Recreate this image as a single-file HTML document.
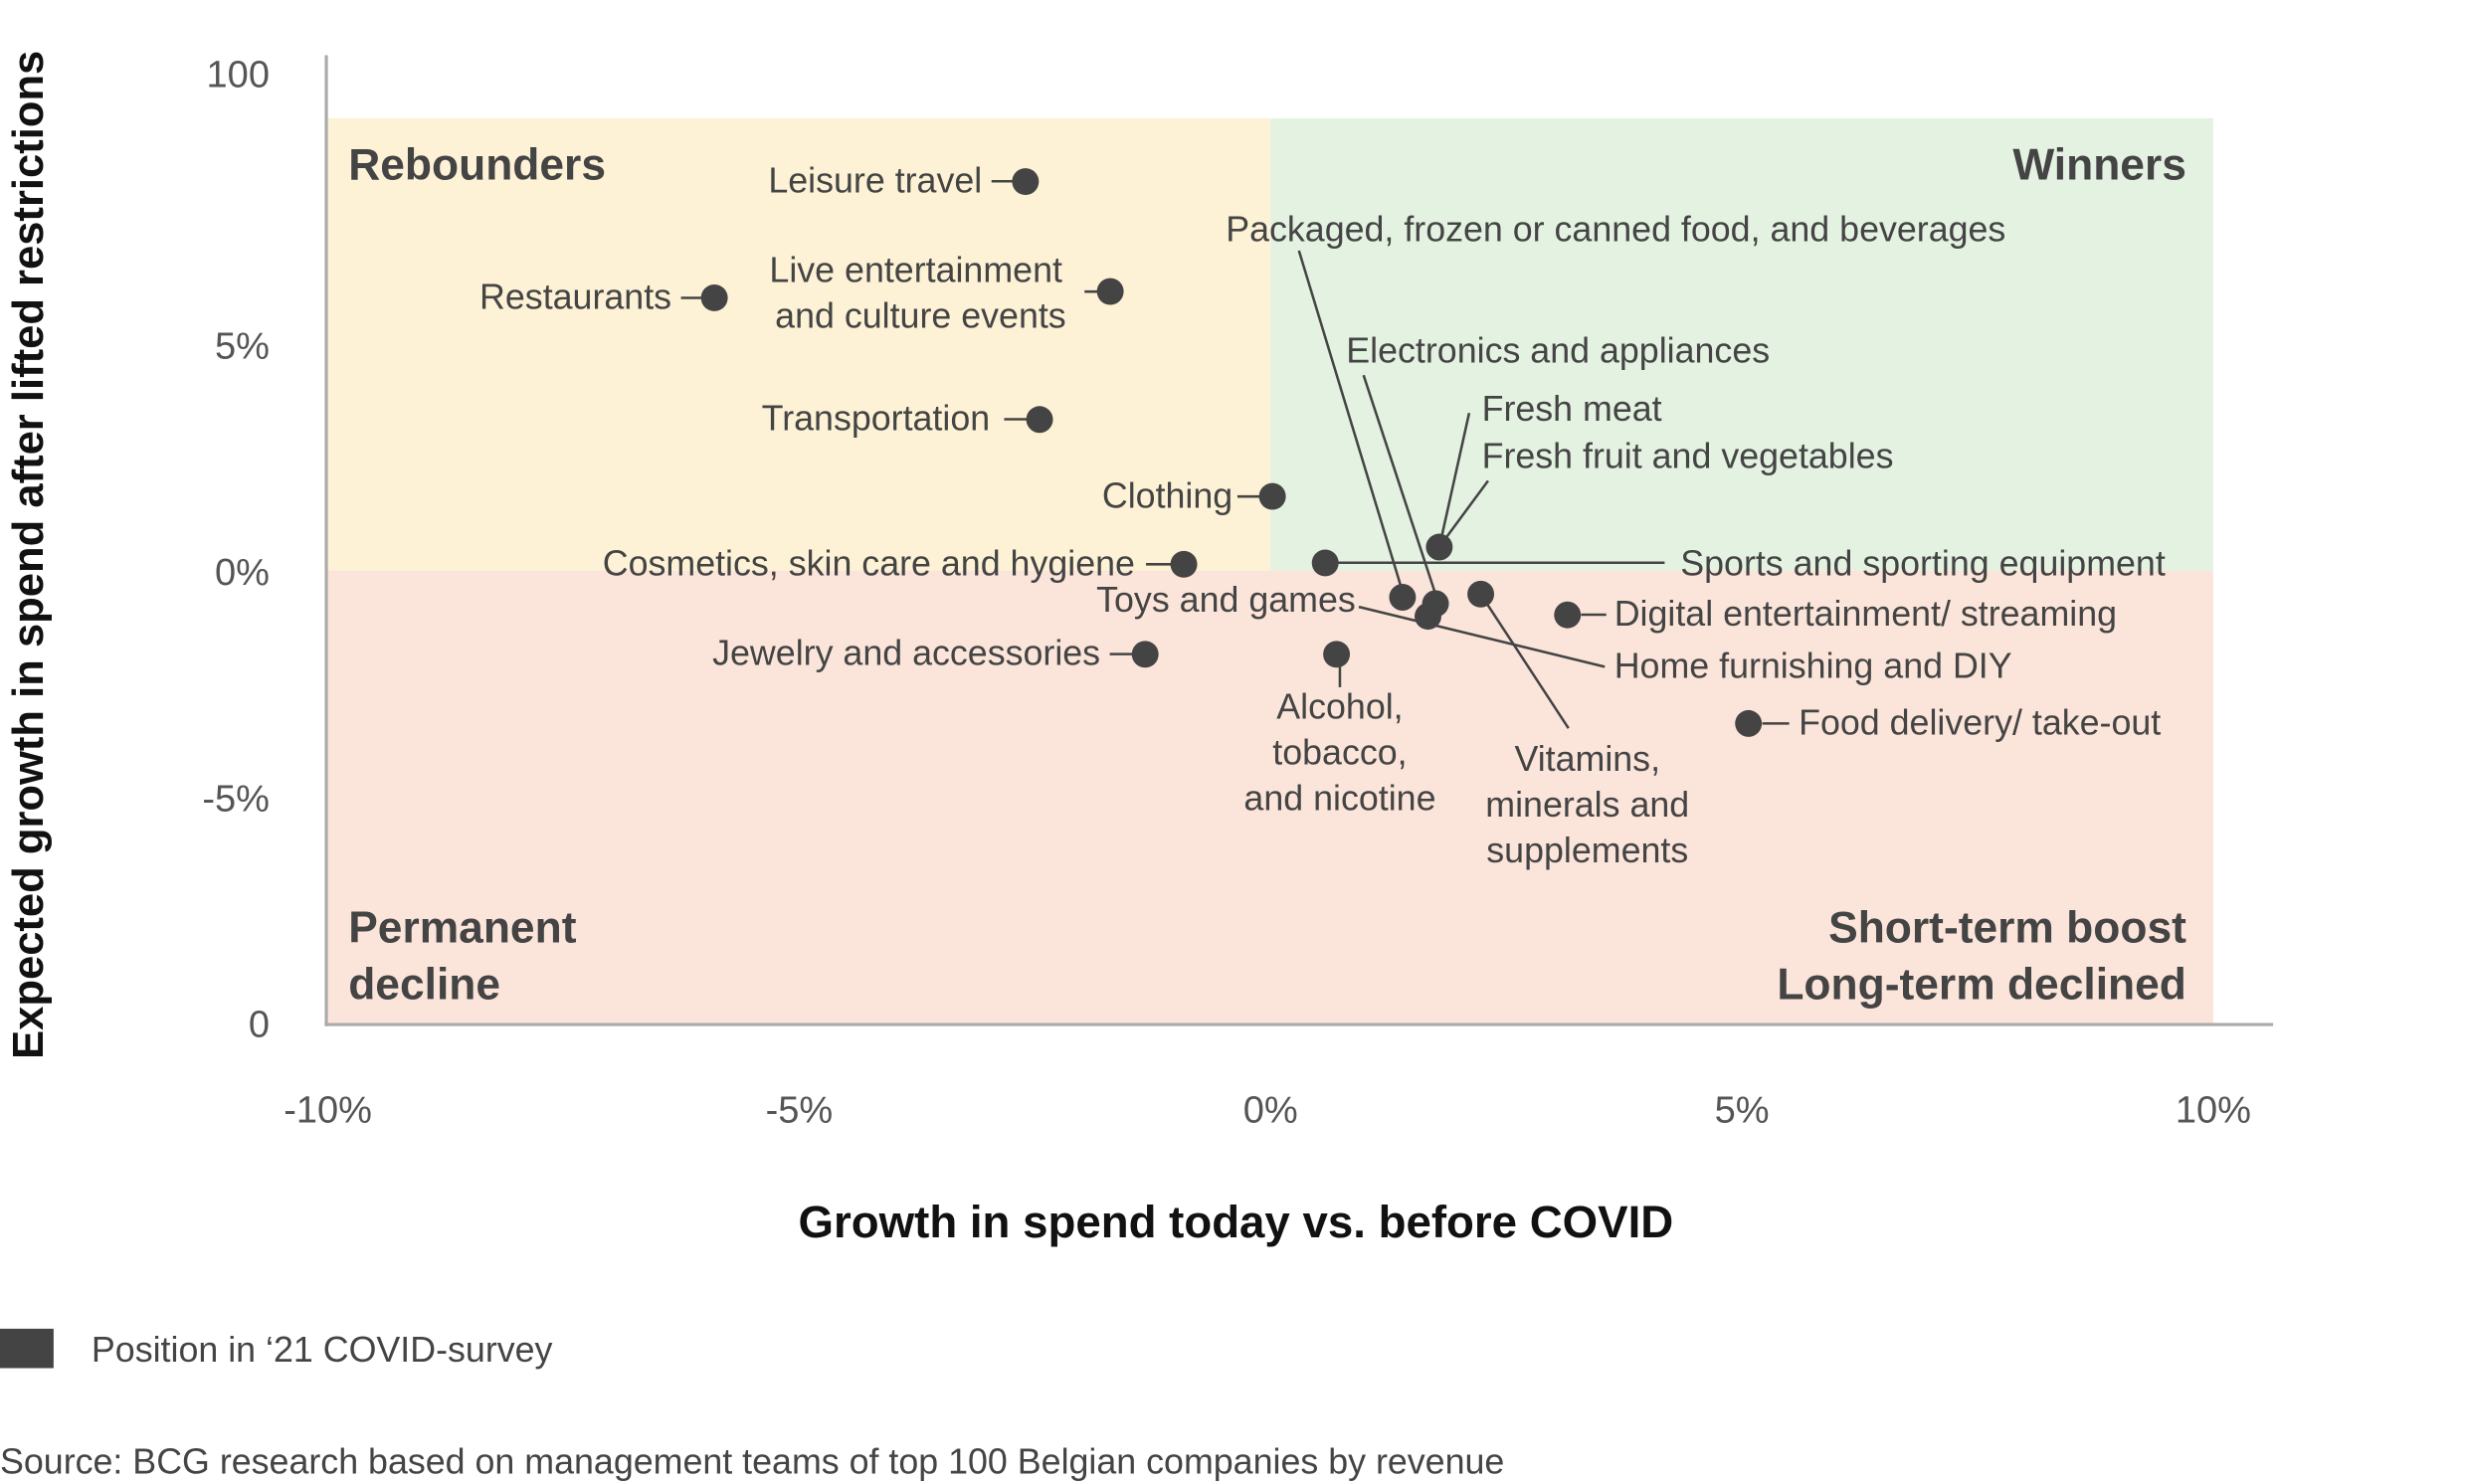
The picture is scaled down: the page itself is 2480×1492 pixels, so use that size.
<!DOCTYPE html>
<html><head><meta charset="utf-8"><style>
html,body{margin:0;padding:0;background:#fff;}
svg{display:block;font-family:"Liberation Sans",sans-serif;}
.lbl{font-size:22.6px;fill:#444;}
.quad{font-size:28px;font-weight:bold;fill:#444;}
.tick{font-size:24px;fill:#555;}
.lead{stroke:#444;stroke-width:1.6;fill:none;}
</style></head><body>
<svg id="chart" width="2480" height="1492" viewBox="0 0 1565 941.5" xmlns="http://www.w3.org/2000/svg">
<g id="bg"></g>
<line x1="207" y1="35" x2="207" y2="651" stroke="#aaa" stroke-width="2"/>
<line x1="206" y1="650" x2="1442" y2="650" stroke="#aaa" stroke-width="2"/>
<g id="ticks"></g>
<text class="quad" x="221" y="114">Rebounders</text>
<text class="quad" x="1387" y="114" text-anchor="end">Winners</text>
<text class="quad" x="221" y="598">Permanent<tspan x="221" y="634">decline</tspan></text>
<text class="quad" x="1387" y="598" text-anchor="end">Short-term boost<tspan x="1387" y="634">Long-term declined</tspan></text>
<g>
<line class="lead" x1="629" y1="115" x2="647" y2="115"/>
<line class="lead" x1="432" y1="189" x2="449" y2="189"/>
<line class="lead" x1="688" y1="185" x2="702" y2="185"/>
<line class="lead" x1="637" y1="266" x2="655" y2="266"/>
<line class="lead" x1="785" y1="315" x2="803" y2="315"/>
<line class="lead" x1="727" y1="358" x2="747" y2="358"/>
<line class="lead" x1="704" y1="415" x2="722" y2="415"/>
<line class="lead" x1="850" y1="421" x2="850" y2="436"/>
<line class="lead" x1="843" y1="357" x2="1056" y2="357"/>
<line class="lead" x1="914" y1="343" x2="932" y2="262"/>
<line class="lead" x1="916" y1="343" x2="944" y2="305"/>
<line class="lead" x1="824" y1="159" x2="889" y2="373"/>
<line class="lead" x1="865" y1="238" x2="911" y2="378"/>
<line class="lead" x1="862" y1="385" x2="1018" y2="423"/>
<line class="lead" x1="940" y1="378" x2="995" y2="462"/>
<line class="lead" x1="1003" y1="390" x2="1019" y2="390"/>
<line class="lead" x1="1118" y1="459" x2="1135" y2="459"/>
</g>
<g id="dots"></g>
<g>
<text class="lbl" x="623" y="122" text-anchor="end">Leisure travel</text>
<text class="lbl" x="426" y="196" text-anchor="end">Restaurants</text>
<text class="lbl" x="581" y="179" text-anchor="middle">Live entertainment<tspan x="584" y="208">and culture events</tspan></text>
<text class="lbl" x="628" y="273" text-anchor="end">Transportation</text>
<text class="lbl" x="782" y="322" text-anchor="end">Clothing</text>
<text class="lbl" x="720" y="365" text-anchor="end">Cosmetics, skin care and hygiene</text>
<text class="lbl" x="698" y="422" text-anchor="end">Jewelry and accessories</text>
<text class="lbl" x="850" y="456" text-anchor="middle">Alcohol,<tspan x="850" y="485">tobacco,</tspan><tspan x="850" y="514">and nicotine</tspan></text>
<text class="lbl" x="1066" y="365">Sports and sporting equipment</text>
<text class="lbl" x="940" y="267">Fresh meat</text>
<text class="lbl" x="940" y="297">Fresh fruit and vegetables</text>
<text class="lbl" x="1025" y="153" text-anchor="middle">Packaged, frozen or canned food, and beverages</text>
<text class="lbl" x="854" y="230">Electronics and appliances</text>
<text class="lbl" x="860" y="388" text-anchor="end">Toys and games</text>
<text class="lbl" x="1024" y="430">Home furnishing and DIY</text>
<text class="lbl" x="1007" y="489" text-anchor="middle">Vitamins,<tspan x="1007" y="518">minerals and</tspan><tspan x="1007" y="547">supplements</tspan></text>
<text class="lbl" x="1024" y="397">Digital entertainment/ streaming</text>
<text class="lbl" x="1141" y="466">Food delivery/ take-out</text>
</g>
<text transform="translate(27,352) rotate(-90)" text-anchor="middle" font-size="27.5" font-weight="bold" fill="#111">Expected growth in spend after lifted restrictions</text>
<text x="784" y="785" text-anchor="middle" font-size="28.8" font-weight="bold" fill="#111">Growth in spend today vs. before COVID</text>
<rect x="0" y="843" width="34" height="25" fill="#444"/>
<text x="58" y="864" font-size="22.6" fill="#444">Position in ‘21 COVID-survey</text>
<text x="0" y="935" font-size="22.6" fill="#444">Source: BCG research based on management teams of top 100 Belgian companies by revenue</text>
</svg>
<script>
const xTickValues=[-10,-5,0,5,10];
const xTickLabels=["-10%","-5%","0%","5%","10%"];
const yTickValues=[11,5,0,-5,-10];
const yTickLabels=["100","5%","0%","-5%","0"];
const categories=["Leisure travel","Restaurants","Live entertainment","Transportation","Clothing","Cosmetics","Jewelry","Alcohol","Sports","Fresh food","Toys and games","Electronics","Home furnishing","Vitamins","Digital entertainment","Food delivery"];
const growthToday=[-2.6,-5.9,-1.7,-2.45,0.02,-0.92,-1.33,0.7,0.58,1.79,1.4,1.75,1.67,2.23,3.15,5.07];
const growthAfter=[8.6,6.03,6.17,3.34,1.64,0.14,-1.85,-1.85,0.17,0.52,-0.59,-0.73,-1.01,-0.52,-0.98,-3.38];
const NS="http://www.w3.org/2000/svg";
function xs(v){return 208+(v+10)*59.8;}
function ys(v){return 362-v*28.7;}
const bg=document.getElementById('bg');
function rect(x0,y0,x1,y1,fill,name){const r=document.createElementNS(NS,'rect');r.setAttribute('x',xs(x0));r.setAttribute('y',ys(y1));r.setAttribute('width',xs(x1)-xs(x0));r.setAttribute('height',ys(y0)-ys(y1));r.setAttribute('fill',fill);


bg.appendChild(r);}
rect(-10,0,0,10,'#fdf2d6','quadrant-rebounders-bg');
rect(0,0,10,10,'#e4f2e2','quadrant-winners-bg');
rect(-10,-10,10,0,'#fbe5da','quadrant-decline-bg');
const tk=document.getElementById('ticks');
xTickValues.forEach((v,i)=>{const t=document.createElementNS(NS,'text');t.setAttribute('x',xs(v));t.setAttribute('y',712);t.setAttribute('text-anchor','middle');t.setAttribute('class','tick');t.textContent=xTickLabels[i];


tk.appendChild(t);});
yTickValues.forEach((v,i)=>{const t=document.createElementNS(NS,'text');t.setAttribute('x',171);t.setAttribute('y',ys(v)+9);t.setAttribute('text-anchor','end');t.setAttribute('class','tick');t.textContent=yTickLabels[i];


tk.appendChild(t);});
const dg=document.getElementById('dots');
categories.forEach((c,i)=>{const d=document.createElementNS(NS,'circle');d.setAttribute('cx',xs(growthToday[i]));d.setAttribute('cy',ys(growthAfter[i]));d.setAttribute('r',8.5);d.setAttribute('fill','#444');


dg.appendChild(d);});
</script>
</body></html>
